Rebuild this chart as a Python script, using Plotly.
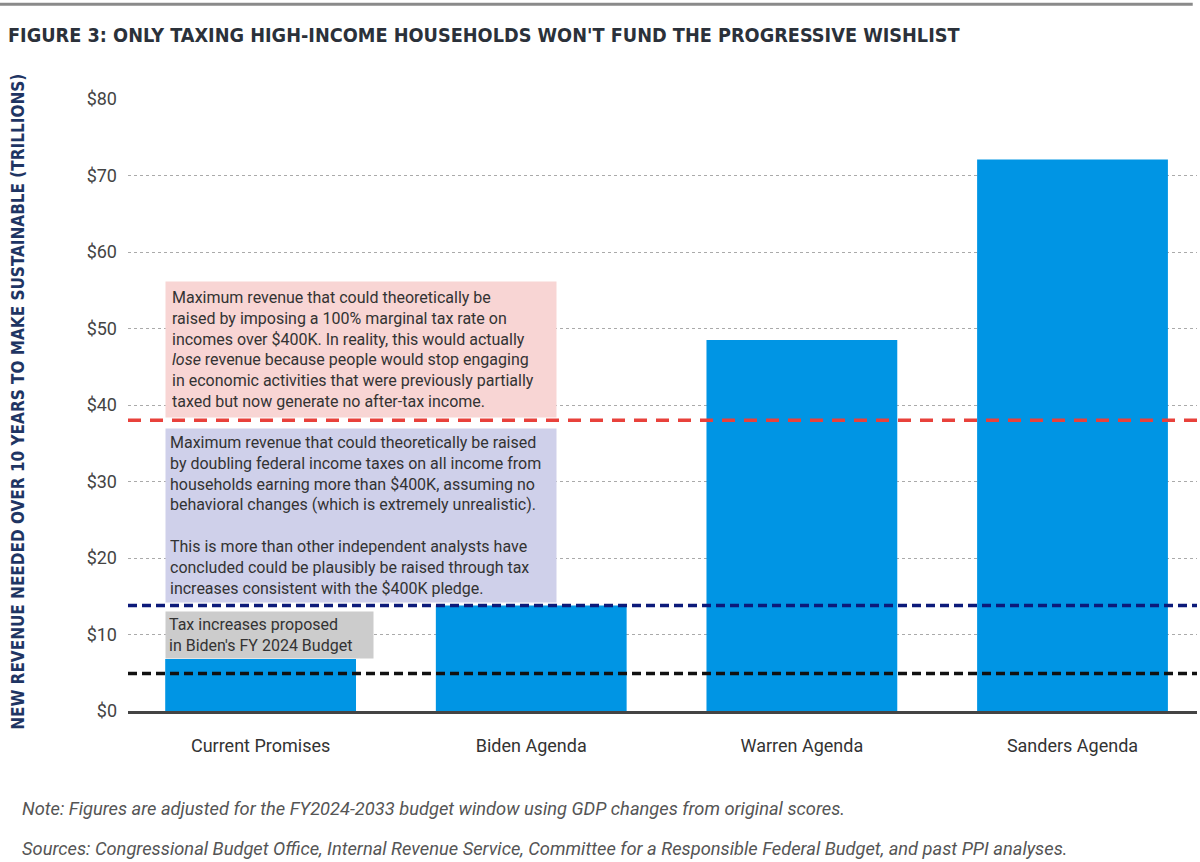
import plotly.graph_objects as go

# valores (trilhões de dólares)
agendas = ['Current Promises', 'Biden Agenda', 'Warren Agenda', 'Sanders Agenda']
receita = [6.8, 13.8, 48.5, 72.1]

# linhas de referência
limite_100pct = 38.0     # taxa marginal de 100% acima de $400K
limite_dobro = 13.8      # dobrar imposto de renda acima de $400K
limite_biden = 4.9       # orçamento FY 2024 do Biden

y_ticks = [0, 10, 20, 30, 40, 50, 60, 70, 80]
y_tick_labels = ['$0', '$10', '$20', '$30', '$40', '$50', '$60', '$70', '$80']

titulo = "FIGURE 3: ONLY TAXING HIGH-INCOME HOUSEHOLDS WON'T FUND THE PROGRESSIVE WISHLIST"
titulo_y = "NEW REVENUE NEEDED OVER 10 YEARS TO MAKE SUSTAINABLE (TRILLIONS)"
nota = "Note: Figures are adjusted for the FY2024-2033 budget window using GDP changes from original scores."
fontes = ("Sources: Congressional Budget Office, Internal Revenue Service, Committee for a Responsible "
          "Federal Budget, and past PPI analyses.")

texto_rosa = ("Maximum revenue that could theoretically be<br>"
              "raised by imposing a 100% marginal tax rate on<br>"
              "incomes over $400K. In reality, this would actually<br>"
              "<i>lose</i> revenue because people would stop engaging<br>"
              "in economic activities that were previously partially<br>"
              "taxed but now generate no after-tax income.")
texto_lilas = ("Maximum revenue that could theoretically be raised<br>"
               "by doubling federal income taxes on all income from<br>"
               "households earning more than $400K, assuming no<br>"
               "behavioral changes (which is extremely unrealistic).<br><br>"
               "This is more than other independent analysts have<br>"
               "concluded could be plausibly be raised through tax<br>"
               "increases consistent with the $400K pledge.")
texto_cinza = "Tax increases proposed<br>in Biden's FY 2024 Budget"

FONTE = "Roboto, Arial, sans-serif"
FONTE_TITULO = "DejaVu Sans Condensed, Liberation Sans Narrow, sans-serif"

fig = go.Figure()

fig.add_trace(go.Bar(
    x=agendas,
    y=receita,
    marker=dict(color='#0095e4', line=dict(width=0)),
    showlegend=False,
    hoverinfo='x+y'
))

# linhas tracejadas de referência
linhas = [
    (limite_100pct, '#e8413b', '13px,9px'),
    (limite_dobro, '#0c1a7a', '9px,5px'),
    (limite_biden, '#111111', '9px,5px'),
]
for valor, cor, traco in linhas:
    fig.add_shape(type='line', xref='paper', x0=0, x1=1, yref='y', y0=valor, y1=valor,
                  line=dict(color=cor, width=3.5, dash=traco), layer='above')

# linha cinza no topo
fig.add_shape(type='line', xref='paper', yref='paper', x0=-0.125, x1=0.996, y0=1.155, y1=1.155,
              line=dict(color='#8a8a8a', width=3))

borda_esq = -0.3525
fonte_caixa = dict(family=FONTE, size=16, color='#333333')
annotations = [
    dict(text=texto_rosa, xref='x', yref='y', x=borda_esq, y=limite_100pct,
         xanchor='left', yanchor='bottom', yshift=2, align='left', showarrow=False,
         bgcolor='#f8d5d4', borderpad=6, width=378, font=fonte_caixa),
    dict(text=texto_lilas, xref='x', yref='y', x=borda_esq, y=limite_dobro,
         xanchor='left', yanchor='bottom', yshift=2, align='left', showarrow=False,
         bgcolor='#cfd0ea', borderpad=4, width=382, font=fonte_caixa),
    dict(text=texto_cinza, xref='x', yref='y', x=borda_esq, y=receita[0],
         xanchor='left', yanchor='bottom', align='left', showarrow=False,
         bgcolor='#cccccc', borderpad=3, width=201, font=fonte_caixa),
    dict(text=titulo_y, xref='paper', yref='paper', x=-0.103, y=0.505,
         xanchor='center', yanchor='middle', textangle=-90, showarrow=False,
         font=dict(family=FONTE_TITULO, size=17, color='#1f3563', weight='bold')),
    dict(text='<i>' + nota + '</i>', xref='paper', yref='paper', x=-0.101, y=-0.1585,
         xanchor='left', yanchor='middle', showarrow=False,
         font=dict(family=FONTE, size=18.3, color='#555555')),
    dict(text='<i>' + fontes + '</i>', xref='paper', yref='paper', x=-0.101, y=-0.2239,
         xanchor='left', yanchor='middle', showarrow=False,
         font=dict(family=FONTE, size=18.3, color='#555555')),
]

fig.update_layout(
    width=1200, height=862,
    margin=dict(l=128, r=3, t=99, b=151),
    plot_bgcolor='white', paper_bgcolor='white',
    bargap=0.295,
    title=dict(text=titulo, x=8 / 1200, xanchor='left', xref='container',
               y=1 - 35 / 862, yanchor='middle', yref='container',
               font=dict(family=FONTE_TITULO, size=19.7, color='#2b313a', weight='bold')),
    annotations=annotations,
    showlegend=False,
)

fig.update_xaxes(
    range=[-0.49, 3.46],
    showline=True, linecolor='#444444', linewidth=2.5,
    showgrid=False, ticks='', ticklabelstandoff=17,
    tickfont=dict(family=FONTE, size=18, color='#333333'),
)
fig.update_yaxes(
    range=[0, 80], tickvals=y_ticks, ticktext=y_tick_labels,
    showgrid=True, gridcolor='#aaaaaa', gridwidth=1, griddash='dot',
    zeroline=False, showline=False, ticks='', ticklabelstandoff=10,
    tickfont=dict(family=FONTE, size=18, color='#444444'),
)

# tira a margem padrão do body para o gráfico começar no canto da janela
fig.write_html("out.html", config={'displayModeBar': False},
               post_script="document.body.style.margin='0';")
